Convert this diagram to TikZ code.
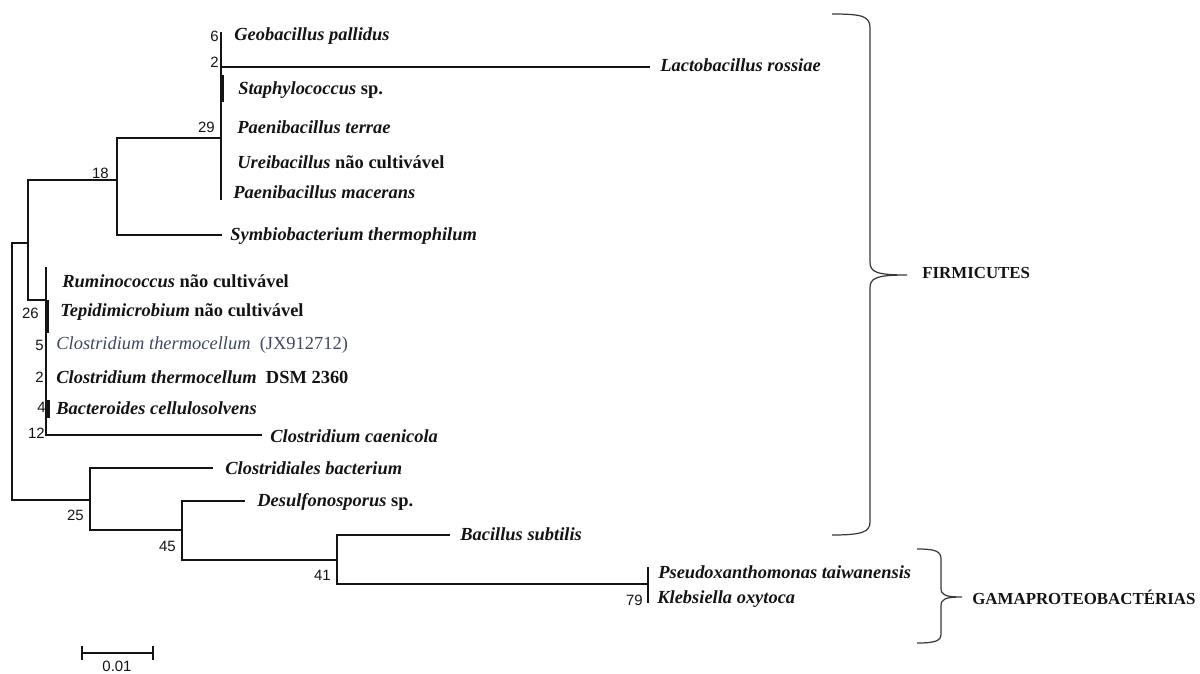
\documentclass[tikz,border=0pt]{standalone}
\usepackage{fontspec}
\setmainfont{Liberation Serif}
\newfontfamily\bootfont{Liberation Sans}
\usetikzlibrary{positioning}
\definecolor{phyink}{HTML}{141414}
\definecolor{physlate}{HTML}{3E4863}
\definecolor{phybrace}{HTML}{3A3A3A}
\tikzset{
  phy/.style={line width=0.8pt, draw=phyink},
  phythick/.style={line width=1.9pt, draw=phyink},
  taxon/.style={anchor=west, inner sep=0pt, text=phyink,
    font=\fontsize{10.5}{12}\selectfont\bfseries\itshape},
  taxonplain/.style={anchor=west, inner sep=0pt, text=physlate,
    font=\fontsize{10.5}{12}\selectfont\itshape},
  boot/.style={anchor=east, inner sep=0pt, text=phyink,
    font=\bootfont\fontsize{8.5}{10}\selectfont},
  phylum/.style={anchor=west, inner sep=0pt, text=phyink,
    font=\fontsize{9.6}{11}\selectfont\bfseries},
  phybr/.style={line width=0.7pt, draw=phybrace},
}

\begin{document}
\begin{tikzpicture}[x=0.02cm, y=-0.02cm]
  \useasboundingbox (0,0) rectangle (1200,673);

  % branch points
  \coordinate (rt)  at (12,370);
  \coordinate (nA)  at (28,243);
  \coordinate (n18) at (117,180);
  \coordinate (n29) at (221,138);
  \coordinate (n26) at (46,300);
  \coordinate (n25) at (90,500);
  \coordinate (n45) at (182,530);
  \coordinate (n41) at (337,560);
  \coordinate (n79) at (648,584);

  % branch tips
  \coordinate (geo)   at (221,32);
  \coordinate (lacto) at (650,67);
  \coordinate (mac)   at (221,200);
  \coordinate (symb)  at (222,235);
  \coordinate (rumi)  at (46,267);
  \coordinate (caen)  at (262,435);
  \coordinate (clbac) at (213,468);
  \coordinate (desul) at (245,501);
  \coordinate (bsub)  at (450,535);
  \coordinate (pseu)  at (648,567);
  \coordinate (kleb)  at (648,603);

  \draw[phy] (rt) |- (nA);
  \draw[phy] (rt) |- (n25);
  \draw[phy] (nA) |- (n18);
  \draw[phy] (nA) |- (n26);
  \draw[phy] (n18) |- (n29);
  \draw[phy] (n18) |- (symb);
  \draw[phy] (geo) -- (mac);
  \draw[phy] (n29) |- (lacto);
  \draw[phythick] (222,75) -- (222,102);
  \draw[phy] (n26) -- (rumi);
  \draw[phy] (n26) |- (caen);
  \draw[phythick] (47,300) -- (47,333);
  \draw[phythick] (48,400) -- (48,418);
  \draw[phy] (n25) |- (clbac);
  \draw[phy] (n25) |- (n45);
  \draw[phy] (n45) |- (desul);
  \draw[phy] (n45) |- (n41);
  \draw[phy] (n41) |- (bsub);
  \draw[phy] (n41) |- (n79);
  \draw[phy] (pseu) -- (kleb);

  % taxa
  \node[taxon] (geoL)   at (234,36)  {Geobacillus pallidus};
  \node[taxon] (lactoL) at (660,65)  {Lactobacillus rossiae};
  \node[taxon] (staL)   at (238,90)  {Staphylococcus \textup{sp.}};
  \node[taxon] (terL)   at (237,127) {Paenibacillus terrae};
  \node[taxon] (ureL)   at (237,162) {Ureibacillus \textup{não cultivável}};
  \node[taxon] (macL)   at (233,192) {Paenibacillus macerans};
  \node[taxon] (symbL)  at (230,236) {Symbiobacterium thermophilum};
  \node[taxon] (rumiL)  at (62,281)  {Ruminococcus \textup{não cultivável}};
  \node[taxon] (tepiL)  at (60,312)  {Tepidimicrobium \textup{não cultivável}};
  \node[taxonplain] (ctjxL) at (56,345) {Clostridium thermocellum \ \textup{(JX912712)}};
  \node[taxon] (ctdsL)  at (56,377)  {Clostridium thermocellum \ \textup{DSM 2360}};
  \node[taxon] (bactL)  at (56,408)  {Bacteroides cellulosolvens};
  \node[taxon] (caenL)  at (270,436) {Clostridium caenicola};
  \node[taxon] (clbacL) at (225,468) {Clostridiales bacterium};
  \node[taxon] (desulL) at (257,502) {Desulfonosporus \textup{sp.}};
  \node[taxon] (bsubL)  at (460,534) {Bacillus subtilis};
  \node[taxon] (pseuL)  at (658,572) {Pseudoxanthomonas taiwanensis};
  \node[taxon] (klebL)  at (657,599) {Klebsiella oxytoca};

  % bootstrap values
  \node[boot] at (219,36)  {6};
  \node[boot] at (219,62)  {2};
  \node[boot] at (215,127) {29};
  \node[boot] at (109,173) {18};
  \node[boot] at (39,313)  {26};
  \node[boot] at (44,345)  {5};
  \node[boot] at (44,377)  {2};
  \node[boot] at (46,407)  {4};
  \node[boot] at (45,433)  {12};
  \node[boot] at (84,515)  {25};
  \node[boot] at (176,546) {45};
  \node[boot] at (331,575) {41};
  \node[boot] at (643,600) {79};

  % groups
  \draw[phybr] (832,14) .. controls (862,14) and (870,16) .. (870,28)
    -- (870,262) .. controls (870,272) and (876,275) .. (907,275)
    .. controls (876,275) and (870,278) .. (870,288)
    -- (870,522) .. controls (870,532) and (862,535) .. (832,535);
  \node[phylum] (firm) at (922,273) {FIRMICUTES};
  \draw[phybr] (917,549) .. controls (935,549) and (941,551) .. (941,559)
    -- (941,588) .. controls (941,595) and (945,597) .. (962,597)
    .. controls (945,597) and (941,599) .. (941,606)
    -- (941,634) .. controls (941,641) and (935,643) .. (917,643);
  \node[phylum] (gama) at (972,597) {GAMAPROTEOBACTÉRIAS};

  % scale
  \coordinate (sbA) at (82,653);
  \coordinate (sbB) at (153,653);
  \draw[line width=0.7pt, draw=phyink] (sbA) -- (sbB);
  \draw[line width=0.7pt, draw=phyink] (82,646) -- (82,660);
  \draw[line width=0.7pt, draw=phyink] (153,646) -- (153,660);
  \node[boot, anchor=center] (sbL) at (117,666) {0.01};
\end{tikzpicture}
\end{document}
